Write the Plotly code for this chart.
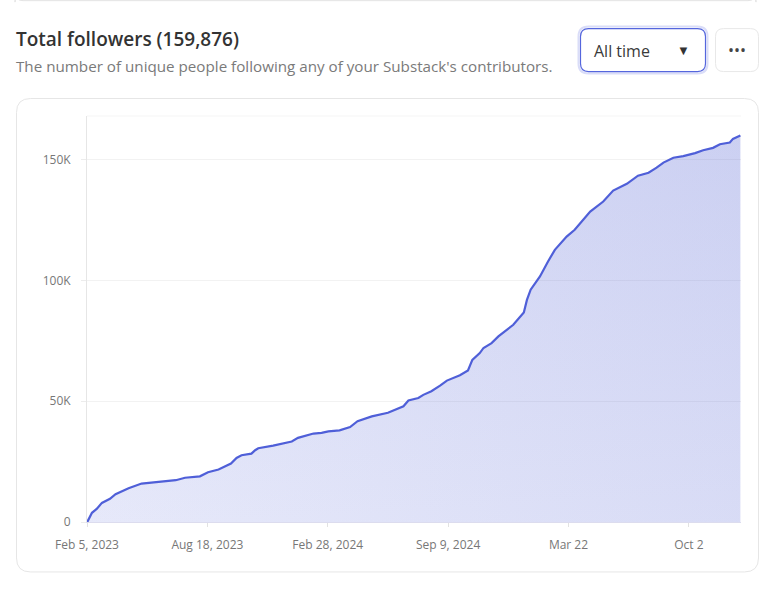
import pandas as pd
import plotly.graph_objects as go

W, H = 783, 599
L, R, T, B = 87, 741, 116, 522.5

start_date = "2023-02-05"
# days since start_date, followers in thousands
days = [0, 1, 8, 16, 24, 37, 46, 67, 88, 115, 143, 158, 182, 195, 212, 232, 241, 249, 265, 271,
        276, 300, 330, 340, 365, 378, 389, 407, 424, 436, 459, 485, 499, 510, 518, 534, 542, 555,
        569, 580, 601, 614, 621, 633, 639, 652, 663, 687, 704, 709, 715, 730, 743, 754, 773, 786,
        811, 832, 848, 870, 888, 905, 918, 929, 945, 961, 980, 993, 1009, 1020, 1036, 1041, 1053]
followers_k = [0, 0.3, 3.8, 5.5, 7.9, 9.6, 11.5, 14.0, 15.9, 16.7, 17.3, 18.3, 18.9, 20.6, 21.7,
               24.2, 26.5, 27.6, 28.3, 29.7, 30.5, 31.6, 33.3, 34.8, 36.6, 36.9, 37.5, 37.9, 39.3,
               41.7, 43.7, 45.2, 46.9, 47.9, 50.3, 51.3, 52.6, 54.1, 56.4, 58.5, 60.7, 62.7, 67.1,
               69.9, 72.0, 74.0, 76.8, 81.6, 86.7, 91.9, 96.1, 101.6, 107.8, 112.6, 118.1, 120.9,
               128.4, 132.6, 137.1, 139.9, 143.3, 144.5, 146.6, 148.7, 150.7, 151.4, 152.6, 153.8,
               154.8, 156.3, 157.0, 158.5, 159.876]
tick_days = [0, 194, 388, 582, 776, 970]
tick_labels = ["Feb 5, 2023", "Aug 18, 2023", "Feb 28, 2024", "Sep 9, 2024", "Mar 22", "Oct 2"]
y_ticks = [0, 50000, 100000, 150000]
y_labels = ["0", "50K", "100K", "150K"]

start = pd.Timestamp(start_date)
dates = [start + pd.Timedelta(days=d) for d in days]
values = [v * 1000 for v in followers_k]
tick_dates = [start + pd.Timedelta(days=d) for d in tick_days]
FONT = "Open Sans"


def px(x):
    return (x - L) / (R - L)


def py(y):
    return (B - y) / (B - T)


def round_rect(x0, y0, x1, y1, r):
    # rounded box as svg path, in paper coords
    X0, X1, Y0, Y1 = px(x0), px(x1), py(y0), py(y1)
    rx, ry = r / (R - L), r / (B - T)
    return (f"M{X0 + rx},{Y0} L{X1 - rx},{Y0} Q{X1},{Y0} {X1},{Y0 - ry} "
            f"L{X1},{Y1 + ry} Q{X1},{Y1} {X1 - rx},{Y1} "
            f"L{X0 + rx},{Y1} Q{X0},{Y1} {X0},{Y1 + ry} "
            f"L{X0},{Y0 - ry} Q{X0},{Y0} {X0 + rx},{Y0} Z")


def box(x0, y0, x1, y1, r, line, width=1, fill="white"):
    return dict(type="path", xref="paper", yref="paper", path=round_rect(x0, y0, x1, y1, r),
                line=dict(color=line, width=width), fillcolor=fill, layer="below")


def label(x, y, text, size, color, anchor="left", weight=None):
    # annotations carry 1px border + 1px pad, hence the shift
    shift = -2 if anchor == "left" else 0
    fig.add_annotation(xref="paper", yref="paper", x=px(x), y=py(y), text=text, showarrow=False,
                       xanchor=anchor, yanchor="middle", xshift=shift, align=anchor,
                       font=dict(family=FONT, size=size, color=color, weight=weight))


fig = go.Figure()

# two stacked translucent gradients to get the diagonal look of the fill
fig.add_trace(go.Scatter(
    x=dates, y=values, mode="lines", line=dict(width=0), hoverinfo="skip", fill="tozeroy",
    fillgradient=dict(type="horizontal", colorscale=[[0, "rgba(95,110,220,0.09)"], [1, "rgba(80,95,210,0.17)"]]),
))
fig.add_trace(go.Scatter(
    x=dates, y=values, mode="lines", line=dict(color="#4f5fd8", width=2.2), fill="tozeroy",
    fillgradient=dict(type="vertical", colorscale=[[0, "rgba(95,110,220,0.07)"], [1, "rgba(80,95,210,0.15)"]]),
))

fig.update_layout(
    width=W, height=H, margin=dict(l=L, r=W - R, t=T, b=H - B, pad=0, autoexpand=False),
    paper_bgcolor="white", plot_bgcolor="white", showlegend=False,
    font=dict(family=FONT, size=12, color="#777777"),
    shapes=[
        box(15, -6, 756, 0.5, 8, "#e3e3e3"),
        box(16.5, 98.5, 758.5, 572.5, 14, "#e6e6e6"),
        box(578.5, 26.5, 707.5, 73.5, 10, "rgba(85,102,221,0.22)", 2),
        box(580.5, 28.5, 705.5, 71.5, 8, "#5566dd", 1.2),
        box(715.5, 28.5, 758.5, 71.5, 8, "#e8e8e8"),
        dict(type="line", xref="paper", yref="paper", x0=0, x1=1, y0=1, y1=1,
             line=dict(color="#f5f5f5", width=1), layer="below"),
    ],
)
fig.update_xaxes(
    type="date", range=[start, start + pd.Timedelta(days=1054)], tickmode="array",
    tickvals=tick_dates, ticktext=tick_labels, showgrid=False, zeroline=False, showline=True,
    linecolor="#dcdcee", linewidth=1, ticks="outside", ticklen=4, tickcolor="#e2e2e2",
    ticklabelstandoff=8, tickfont=dict(family=FONT, size=12, color="#777777"),
)
fig.update_yaxes(
    range=[0, (B - T) / 2.42 * 1000], tickmode="array", tickvals=y_ticks, ticktext=y_labels,
    showgrid=True, gridcolor="#f2f2f2", gridwidth=1, zeroline=False, showline=True,
    linecolor="#e6e6e6", linewidth=1, ticks="outside", ticklen=5, tickcolor="#ececec",
    ticklabelstandoff=8, tickfont=dict(family=FONT, size=12, color="#777777"),
)

label(16, 39, "Total followers (159,876)", 19, "#333333", weight=600)
label(16, 66, "The number of unique people following any of your Substack's contributors.", 15.2, "#7a7a7a")
label(594, 51, "All time", 16, "#3a3a3a")
label(683, 50, "▼", 13, "#333333", anchor="center")
label(737, 50, "•••", 16, "#444444", anchor="center")

fig.write_html("out.html", config=dict(displayModeBar=False), post_script="document.body.style.margin='0';")
